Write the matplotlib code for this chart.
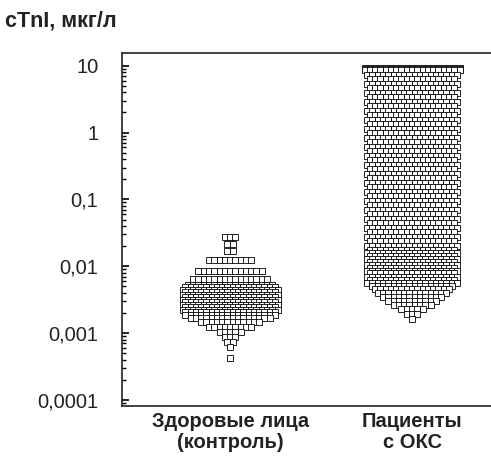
import numpy as np
import matplotlib as mpl
mpl.use('Agg')
import matplotlib.pyplot as plt
from matplotlib.ticker import FixedLocator, LogLocator, NullFormatter

# cTnI, ug/L -- each row of the dot plot: value and number of points in it
ctrl_vals = [0.0277, 0.0218, 0.0171, 0.0122, 0.0086, 0.0065, 0.0053,
             0.00481, 0.00442, 0.00405, 0.00372, 0.00341, 0.00313,
             0.00287, 0.00264, 0.00242, 0.00222, 0.00204, 0.00187,
             0.00166, 0.00144, 0.00122, 0.00102, 0.00086, 0.00073,
             0.00061, 0.00042]
ctrl_counts = [3, 2, 2, 9, 13, 15, 17,
               18, 19, 18, 19, 18, 19,
               18, 19, 18, 19, 18, 18,
               16, 12, 9, 5, 3, 2,
               1, 1]

acs_vals = [9.4, 9.0, 8.6,
            7.27, 6.23, 5.33, 4.57, 3.92, 3.35, 2.87, 2.46, 2.11, 1.81,
            1.55, 1.33, 1.14, 0.974, 0.834, 0.715, 0.612, 0.524, 0.449, 0.385,
            0.330, 0.282, 0.242, 0.207, 0.177, 0.152, 0.130, 0.111, 0.0954, 0.0817,
            0.070, 0.060, 0.0514, 0.044, 0.0377, 0.0323, 0.0277, 0.0237, 0.0203, 0.0174,
            0.016, 0.0144, 0.013, 0.0117, 0.0106, 0.0095, 0.0086, 0.0078,
            0.0070, 0.0063, 0.0057, 0.0051, 0.0046,
            0.0040, 0.0035, 0.0030, 0.0026, 0.0023, 0.0019, 0.0016]
acs_counts = [19, 19, 19,
              18, 17, 18, 17, 18, 17, 18, 17, 18, 17,
              18, 17, 18, 17, 18, 17, 18, 17, 18, 17,
              18, 17, 18, 17, 18, 17, 18, 17, 18, 17,
              18, 17, 18, 17, 18, 17, 18, 17, 18, 17,
              18, 17, 18, 17, 18, 17, 18, 17,
              18, 17, 18, 16, 15,
              14, 12, 10, 8, 5, 3, 1]

groups = ['Здоровые лица\n(контроль)', 'Пациенты\nс ОКС']
ytick_vals = [0.0001, 0.001, 0.01, 0.1, 1, 10]
ytick_labels = ['0,0001', '0,001', '0,01', '0,1', '1', '10']

font = ['Liberation Sans', 'DejaVu Sans']

fig = plt.figure(figsize=(4.91, 4.57), dpi=100)
ax = fig.add_axes([0.2485, 0.1116, 0.7515, 0.7724])

dx = 0.029
for pos, vals, counts in [(1, ctrl_vals, ctrl_counts), (2, acs_vals, acs_counts)]:
    xs, ys = [], []
    for v, n in zip(vals, counts):
        off = (np.arange(n) - (n - 1) / 2) * dx
        xs.extend(pos + off)
        ys.extend([v] * n)
    ax.plot(xs, ys, 's', ms=3.7, mfc='white', mec='black', mew=0.6, ls='none')

ax.set_yscale('log')
ax.set_ylim(8.1e-5, 15.5)
ax.set_xlim(0.406, 2.434)

ax.yaxis.set_major_locator(FixedLocator(ytick_vals))
ax.set_yticklabels(ytick_labels, family=font, fontsize=14.5, color='#222222')
ax.yaxis.set_minor_locator(LogLocator(base=10, subs=np.arange(2, 10)))
ax.yaxis.set_minor_formatter(NullFormatter())
ax.tick_params(axis='y', which='major', direction='in', length=5, width=1.2, pad=17)
ax.tick_params(axis='y', which='minor', direction='in', length=3, width=1.0)

ax.set_xticks([1, 2])
ax.set_xticklabels(groups, family=font, fontsize=14.5, fontweight='bold',
                   linespacing=1.15, color='#222222')
ax.tick_params(axis='x', length=0, pad=4)

ax.spines['right'].set_visible(False)
for s in ['left', 'top', 'bottom']:
    ax.spines[s].set_linewidth(1.2)
    ax.spines[s].set_color('#222222')

fig.text(0.01, 0.955, 'cTnI, мкг/л', family=font, fontsize=15.5, fontweight='bold',
         va='center', ha='left', color='#222222')

fig.savefig('out.png', dpi=100)
